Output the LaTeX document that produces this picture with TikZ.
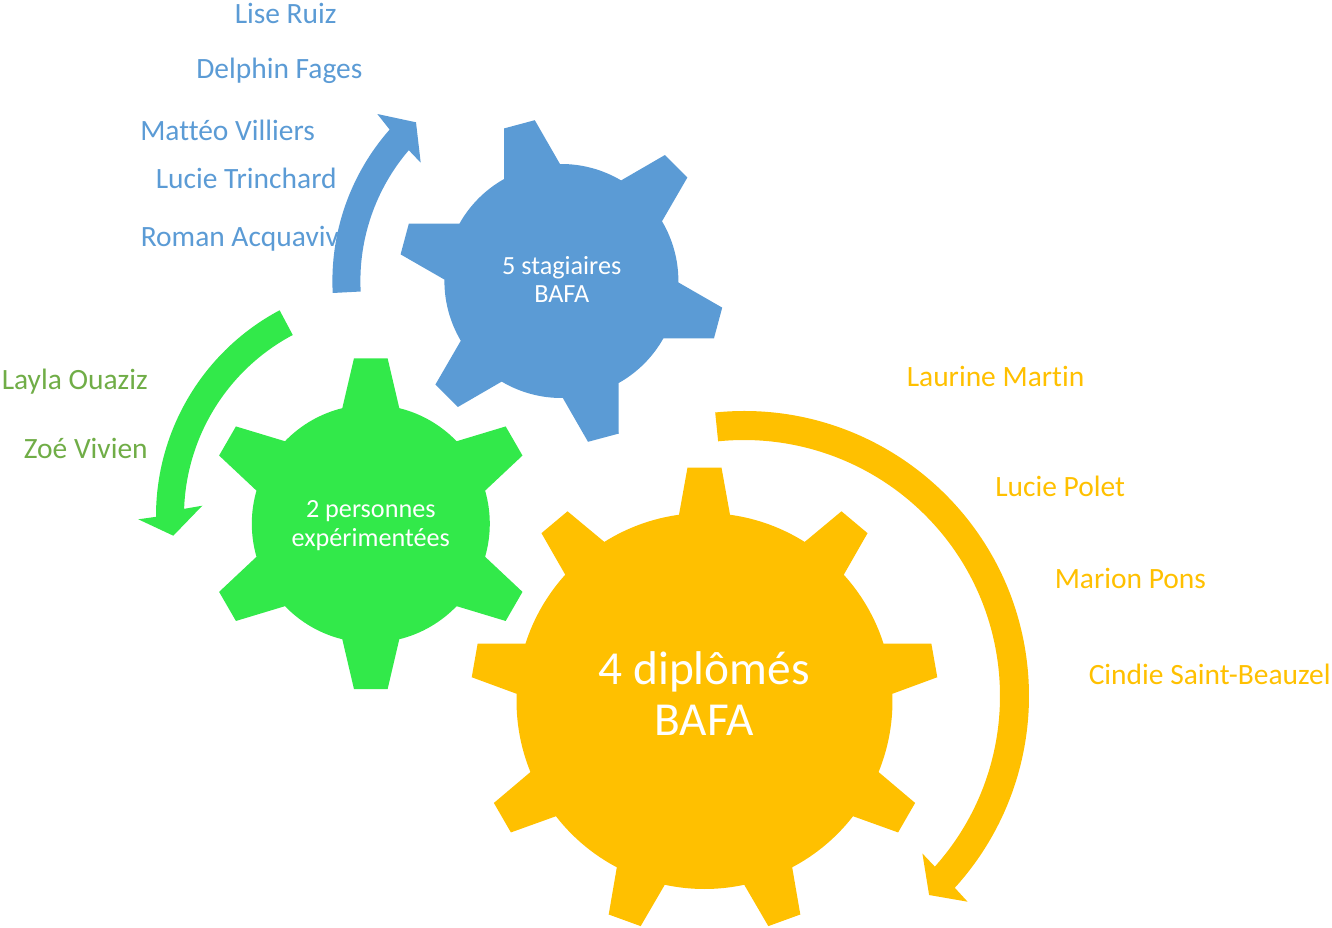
\documentclass[tikz,border=0pt]{standalone}
\usepackage{fontspec}
\setmainfont{Carlito}[Ligatures=NoCommon]
\usetikzlibrary{calc}
\definecolor{gblue}{HTML}{5B9BD5}
\definecolor{ggreen}{RGB}{50,233,74}
\definecolor{gyellow}{HTML}{FFC000}
\definecolor{tgreen}{HTML}{70AD47}
% #1 colour, #2 centre, #3 body radius, #4 tip radius, #5 teeth, #6 first tooth angle, #7 base half angle, #8 tip half angle
\newcommand\drawgear[8]{%
  \pgfmathsetmacro\gstep{360/#5}%
  \pgfmathtruncatemacro\glast{#5-1}%
  \fill[#1,shift={(#2)}] ({#6-#7}:#3)
    \foreach \i [evaluate=\i as \ga using #6+\i*\gstep] in {0,...,\glast}{
      -- ({\ga-#8}:#4) -- ({\ga+#8}:#4) -- ({\ga+#7}:#3)
      arc[start angle={\ga+#7}, end angle={\ga+\gstep-#7}, radius=#3]
    } -- cycle;
}
\begin{document}
\begin{tikzpicture}[x=0.75pt,y=-0.75pt,
  lbl/.style={inner sep=0pt, font=\fontsize{22.1}{26}\selectfont},
  gtxt/.style={inner sep=0pt, text=white, anchor=base},
  smallgear/.style={font=\fontsize{19.65}{21.5}\selectfont},
  biggear/.style={font=\fontsize{35.5}{38.6}\selectfont}]
\useasboundingbox (0,0) rectangle (1332,928);
\coordinate (cB) at (561.4,281);
\coordinate (cG) at (370.8,523.7);
\coordinate (cY) at (704.5,701);
\coordinate (aB) at (561.4,281);
\coordinate (aG) at (389,516);
\coordinate (aY) at (744,696);

% names
\node[lbl, text=gblue, anchor=base west] (b1) at (234.5,23.3) {Lise Ruiz};
\node[lbl, text=gblue, anchor=base west] (b2) at (196,78.3) {Delphin Fages};
\node[lbl, text=gblue, anchor=base west] (b3) at (140,140.7) {Mattéo Villiers};
\node[lbl, text=gblue, anchor=base west] (b4) at (155.5,188.7) {Lucie Trinchard};
\node[lbl, text=gblue, anchor=base west] (b5) at (140.5,246) {Roman Acquaviva};
\node[lbl, text=tgreen, anchor=base east] (g1) at (148,389.3) {Layla Ouaziz};
\node[lbl, text=tgreen, anchor=base east] (g2) at (148,458.3) {Zoé Vivien};
\node[lbl, text=gyellow, anchor=base west] (y1) at (906.5,386) {Laurine Martin};
\node[lbl, text=gyellow, anchor=base west] (y2) at (995,496) {Lucie Polet};
\node[lbl, text=gyellow, anchor=base west] (y3) at (1054.5,588.3) {Marion Pons};
\node[lbl, text=gyellow, anchor=base west] (y4) at (1088.5,684.3) {Cindie Saint-Beauzel};

% gears
\drawgear{gblue}{cB}{117}{163}{6}{15}{14.3}{5.6}
\drawgear{ggreen}{cG}{119}{166.3}{6}{30}{13.86}{5.8}
\drawgear{gyellow}{cY}{188}{234}{9}{30}{7.8}{4.17}

\node[gtxt, smallgear] (tB) at (561.7,274) {\begin{tabular}[t]{@{}c@{}}5 stagiaires\\BAFA\end{tabular}};
\node[gtxt, smallgear] (tG) at (370.8,517.7) {\begin{tabular}[t]{@{}c@{}}2 personnes\\expérimentées\end{tabular}};
\node[gtxt, biggear] (tY) at (704.2,684.5) {\begin{tabular}[t]{@{}c@{}}4 diplômés\\BAFA\end{tabular}};

% circular arrows
\fill[gblue] ($(aB)+(177:229)$) arc[start angle=177, end angle=221.4, radius=229]
  -- (377.3,114) -- (416,122.3) -- (420.7,162.7)
  -- ($(aB)+(220.6:201)$) arc[start angle=220.6, end angle=177, radius=201] -- cycle;
\fill[ggreen] ($(aG)+(242:233)$) arc[start angle=242, end angle=179.8, radius=233]
  -- (138.3,519.3) -- (173.3,535.7) -- (202.3,505.7)
  -- ($(aG)+(182:205)$) arc[start angle=182, end angle=242, radius=205] -- cycle;
\fill[gyellow] ($(aY)+(264.2:285)$) arc[start angle=264.2, end angle=402.3, radius=285]
  -- (967.6,901.7) -- (929.1,895) -- (922.4,853.5)
  -- ($(aY)+(401.8:256)$) arc[start angle=401.8, end angle=264.2, radius=256] -- cycle;
\end{tikzpicture}
\end{document}
